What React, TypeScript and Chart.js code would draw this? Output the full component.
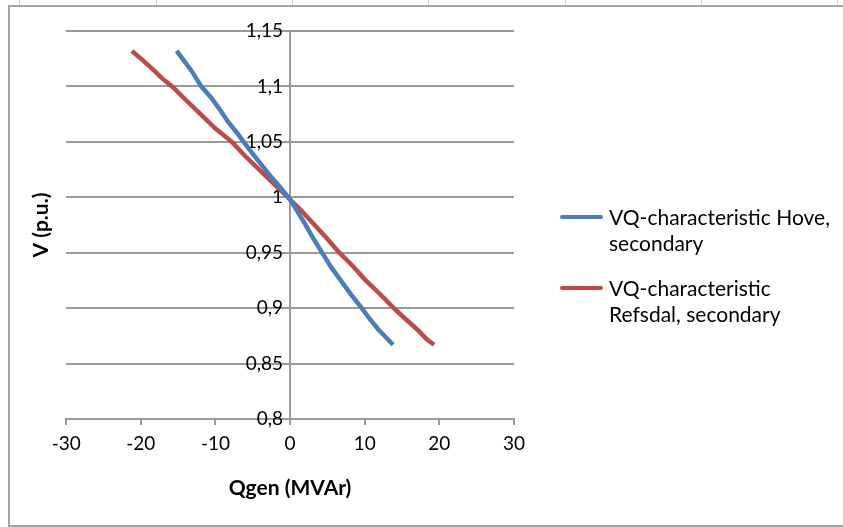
import React, { useEffect, useRef } from "react";
import { Chart, registerables } from "chart.js";

Chart.register(...registerables);

const seriesNames = ["VQ-characteristic Hove, secondary", "VQ-characteristic Refsdal, secondary"];
const legendLines = [
  ["VQ-characteristic Hove,", "secondary"],
  ["VQ-characteristic", "Refsdal, secondary"],
];
const seriesColors = ["#4a7ebb", "#be4b48"];

const hoveQ = [-15.2, -14.3, -13.2, -11.9, -10.6, -9.5, -8.3, -7.1, -6.0, -5.1, -3.8, -2.5, -1.2, 0, 1.0, 2.0, 3.1, 4.2, 5.5, 7.0, 8.2, 9.6, 10.7, 11.8, 12.8, 13.8];
const hoveV = [1.132, 1.124, 1.114, 1.1, 1.09, 1.08, 1.068, 1.058, 1.048, 1.04, 1.029, 1.018, 1.008, 0.998, 0.987, 0.976, 0.963, 0.951, 0.937, 0.923, 0.912, 0.9, 0.89, 0.881, 0.874, 0.867];

const refsdalQ = [-21.2, -19.8, -18.5, -17.1, -15.8, -14.0, -12.0, -10.0, -7.8, -6.0, -4.0, -2.0, 0, 1.5, 3.0, 4.8, 6.6, 8.4, 10.0, 12.0, 13.9, 15.5, 17.0, 18.3, 19.3];
const refsdalV = [1.132, 1.124, 1.116, 1.107, 1.1, 1.088, 1.075, 1.062, 1.05, 1.037, 1.024, 1.011, 0.998, 0.988, 0.977, 0.964, 0.95, 0.938, 0.926, 0.913, 0.9, 0.89, 0.881, 0.872, 0.867];

const xMin = -30;
const xMax = 30;
const xStep = 10;
const yMin = 0.8;
const yMax = 1.15;
const yStep = 0.05;

const xTitle = "Qgen (MVAr)";
const yTitle = "V (p.u.)";

const FONT = "Lato, 'Open Sans', sans-serif";
const GRID = "#9a9a9a";

export default function App() {
  const ref = useRef<HTMLCanvasElement | null>(null);

  useEffect(() => {
    if (!ref.current) return;
    const toPts = (xs: number[], ys: number[]) => xs.map((x, i) => ({ x, y: ys[i] }));
    const chart = new Chart(ref.current, {
      type: "line",
      data: {
        datasets: [
          {
            label: seriesNames[0],
            data: toPts(hoveQ, hoveV),
            borderColor: seriesColors[0],
            backgroundColor: seriesColors[0],
            borderWidth: 4.5,
            pointRadius: 0,
            tension: 0,
            yAxisID: "y",
          },
          {
            label: seriesNames[1],
            data: toPts(refsdalQ, refsdalV),
            borderColor: seriesColors[1],
            backgroundColor: seriesColors[1],
            borderWidth: 4.5,
            pointRadius: 0,
            tension: 0,
            yAxisID: "y",
          },
        ],
      },
      options: {
        responsive: false,
        animation: false,
        layout: { padding: { left: 25, right: 329, top: 31, bottom: 22 } },
        plugins: { legend: { display: false }, tooltip: { enabled: false } },
        scales: {
          x: {
            type: "linear",
            min: xMin,
            max: xMax,
            ticks: {
              stepSize: xStep,
              color: "#000",
              padding: 7,
              font: { family: FONT, size: 19 },
            },
            grid: {
              drawOnChartArea: true,
              drawTicks: true,
              tickLength: 6,
              color: (ctx: any) => (ctx.tick && ctx.tick.value === 0 ? GRID : "rgba(0,0,0,0)"),
              tickColor: GRID,
              lineWidth: 2,
            },
            border: { color: GRID, width: 2 },
            title: {
              display: true,
              text: xTitle,
              color: "#000",
              font: { family: FONT, size: 21, weight: "bold" },
              padding: { top: 14, bottom: 4 },
            },
          },
          y: {
            type: "linear",
            position: "left",
            min: yMin,
            max: yMax,
            ticks: { display: false, stepSize: yStep },
            grid: { color: GRID, lineWidth: 2, drawTicks: false },
            border: { display: false },
            title: {
              display: true,
              text: yTitle,
              color: "#000",
              font: { family: FONT, size: 21, weight: "bold" },
              padding: { top: 4, bottom: 12 },
            },
          },
          y2: {
            type: "linear",
            position: { x: -0.94 },
            min: yMin,
            max: yMax,
            ticks: {
              stepSize: yStep,
              color: "#000",
              padding: 0,
              font: { family: FONT, size: 19 },
              callback: (v: any) => String(+Number(v).toFixed(2)).replace(".", ","),
            },
            grid: { drawOnChartArea: false, drawTicks: false },
            border: { display: false },
          },
        },
      },
    } as any);
    return () => chart.destroy();
  }, []);

  const topMarks = [19, 156, 292, 428, 565, 701, 837];

  return (
    <div style={{ position: "absolute", left: 0, top: 0, width: 843, height: 527, background: "#fff", overflow: "hidden" }}>
      {topMarks.map((x) => (
        <div key={x} style={{ position: "absolute", left: x, top: 0, width: 1, height: 5, background: "#c9d5e6" }} />
      ))}
      <div
        style={{
          position: "absolute",
          left: 8,
          top: 5,
          width: 835,
          height: 522,
          borderLeft: "2px solid #a5a5a5",
          borderTop: "2px solid #a5a5a5",
          borderBottom: "2px solid #a5a5a5",
          boxSizing: "border-box",
        }}
      />
      <canvas ref={ref} width={843} height={527} style={{ position: "absolute", left: 0, top: 0 }} />
      {legendLines.map((lines, i) => (
        <div key={i} style={{ position: "absolute", left: 560, top: i === 0 ? 204 : 275 }}>
          <div style={{ position: "absolute", left: 0, top: 11, width: 43, height: 4, background: seriesColors[i], borderRadius: 2 }} />
          <div style={{ position: "absolute", left: 49, top: 0, fontFamily: FONT, fontSize: 21, lineHeight: "26px", color: "#000", whiteSpace: "nowrap" }}>
            {lines.map((l, j) => (
              <div key={j}>{l}</div>
            ))}
          </div>
        </div>
      ))}
    </div>
  );
}
